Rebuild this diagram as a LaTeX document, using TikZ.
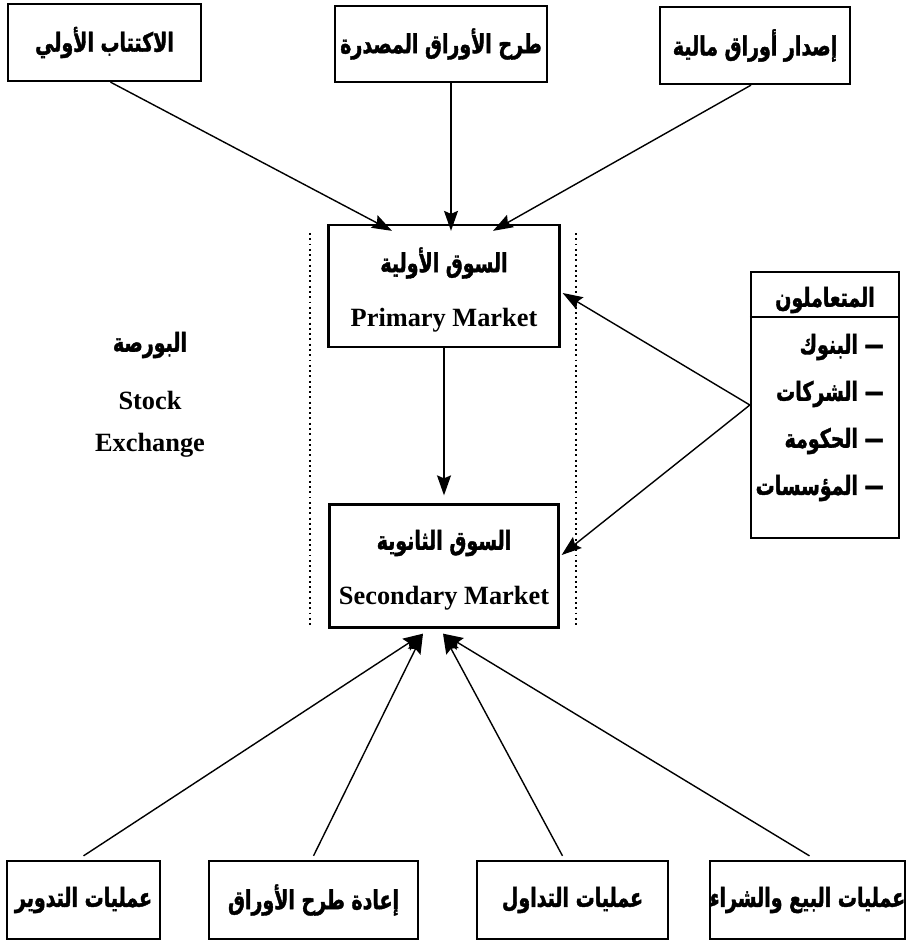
\documentclass[tikz,border=0pt]{standalone}
\usepackage{fontspec}
\setmainfont{Liberation Serif}
\newfontfamily\arabicfont[Script=Arabic,FakeStretch=0.72,FakeBold=1.5]{DejaVu Sans}
\TeXXeTstate=1
\usetikzlibrary{arrows.meta,calc}
\newcommand{\artext}[1]{{\arabicfont\bfseries\fontsize{15}{32}\selectfont\beginR #1\endR}}
\tikzset{
  box/.style={draw, line width=1.3pt, inner sep=0pt, align=center,
    font=\bfseries\fontsize{15}{32}\selectfont},
  label/.style={inner sep=0pt, font=\bfseries\fontsize{15}{18}\selectfont},
  link/.style={line width=0.8pt, -{Stealth[length=0.4cm,width=0.28cm,inset=0.06cm]}},
  guide/.style={line width=0.9pt, dash pattern=on 1.1pt off 1.9pt},
}
\begin{document}
\begin{tikzpicture}[x=0.02cm,y=-0.02cm]
  \useasboundingbox (0,0) rectangle (917,943);
  % top row
  \node[box, minimum width=193*0.02cm, minimum height=77*0.02cm] (ipo) at (104.5,42.5) {\artext{الاكتتاب الأولي}};
  \node[box, minimum width=212*0.02cm, minimum height=76*0.02cm] (offer) at (441,44) {\artext{طرح الأوراق المصدرة}};
  \node[box, minimum width=190*0.02cm, minimum height=77*0.02cm] (issue) at (755,45.5) {\artext{إصدار أوراق مالية}};
  % markets
  \node[box, minimum width=231*0.02cm, minimum height=122*0.02cm] (prim) at (444,286) {};
  \node[label] (primar) at (444,263) {\artext{السوق الأولية}};
  \node[label] (primen) at (444,320) {Primary Market};
  \node[box, minimum width=229*0.02cm, minimum height=123*0.02cm] (sec) at (444,566) {};
  \node[label] (secar) at (444,543) {\artext{السوق الثانوية}};
  \node[label] (secen) at (444,598) {Secondary Market};
  \draw[guide] (310,233) -- (310,627);
  \draw[guide] (576,233) -- (576,627);
  \node[label] (bourse) at (150,345) {\artext{البورصة}};
  \node[label] (stock) at (150,400) {Stock};
  \node[label] (exch) at (150,445) {Exchange};
  % participants
  \node[box, minimum width=148*0.02cm, minimum height=266*0.02cm] (part) at (825,405) {};
  \draw[line width=1.3pt] ($(part.north west)+(0,46)$) -- ($(part.north east)+(0,46)$);
  \node[label] (parthead) at (825,300) {\artext{المتعاملون}};
  \foreach \t [count=\i] in {البنوك,الشركات,الحكومة,المؤسسات}
    \node[label, anchor=east] (p\i) at (884,300+47*\i) {\artext{— \t}};
  % bottom row
  \node[box, minimum width=153*0.02cm, minimum height=78*0.02cm] (rot) at (83.5,900) {\artext{عمليات التدوير}};
  \node[box, minimum width=209*0.02cm, minimum height=78*0.02cm] (reoffer) at (313.5,900) {\artext{إعادة طرح الأوراق}};
  \node[box, minimum width=191*0.02cm, minimum height=78*0.02cm] (trade) at (572.5,900) {\artext{عمليات التداول}};
  \node[box, minimum width=191*0.02cm, minimum height=78*0.02cm] (buysell) at (807.5,900) {\artext{عمليات البيع والشراء}};
  % arrows
  \draw[link] ($(ipo.south)+(6,0)$) -- ($(prim.north)+(-52,7)$);
  \draw[link] ($(offer.south)+(10,0)$) -- ($(prim.north)+(7,7)$);
  \draw[link] ($(issue.south)+(-4,0)$) -- ($(prim.north)+(49,7)$);
  \draw[link, shorten >=0.16cm] (prim) -- (sec);
  \draw[link] (part.west) -- ($(prim.east)+(2,7)$);
  \draw[link] (part.west) -- ($(sec.east)+(2,-11)$);
  \draw[link] ($(rot.north)+(0,-4)$) -- ($(sec.south)+(-21,5)$);
  \draw[link] ($(reoffer.north)+(0,-4)$) -- ($(sec.south)+(-21,5)$);
  \draw[link] ($(trade.north)+(-10,-4)$) -- ($(sec.south)+(-1,5)$);
  \draw[link] ($(buysell.north)+(2,-4)$) -- ($(sec.south)+(-1,5)$);
\end{tikzpicture}
\end{document}
